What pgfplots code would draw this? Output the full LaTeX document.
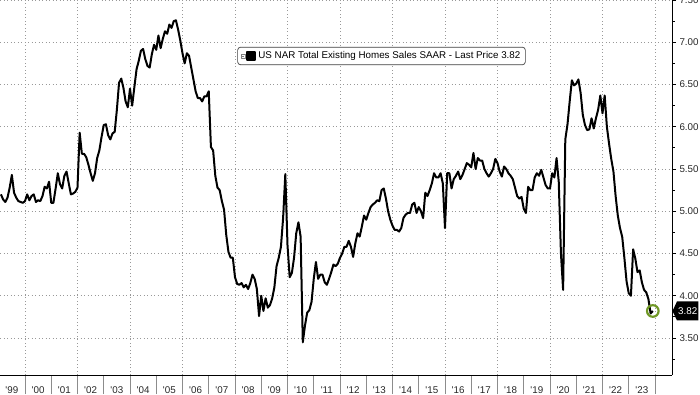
\documentclass[border=0pt]{standalone}
\usepackage{pgfplots}
\pgfplotsset{compat=1.18}
\usepackage{pgfplotstable}
\usepackage{fontspec}
\setmainfont{Liberation Sans}
\usetikzlibrary{shapes.symbols}
\definecolor{ringgreen}{RGB}{112,152,38}
\pgfplotstableread[row sep=\\]{
x v\\
1999.083 5.20\\ 1999.167 5.14\\ 1999.250 5.11\\ 1999.333 5.16\\ 1999.417 5.28\\ 1999.500 5.43\\ 1999.583 5.22\\ 1999.667 5.16\\ 1999.750 5.12\\ 1999.833 5.11\\ 1999.917 5.10\\ 2000.000 5.12\\
2000.083 5.20\\ 2000.167 5.13\\ 2000.250 5.18\\ 2000.333 5.20\\ 2000.417 5.11\\ 2000.500 5.13\\ 2000.583 5.12\\ 2000.667 5.18\\ 2000.750 5.29\\ 2000.833 5.27\\ 2000.917 5.35\\ 2001.000 5.10\\
2001.083 5.10\\ 2001.167 5.27\\ 2001.250 5.45\\ 2001.333 5.32\\ 2001.417 5.27\\ 2001.500 5.42\\ 2001.583 5.47\\ 2001.667 5.33\\ 2001.750 5.20\\ 2001.833 5.21\\ 2001.917 5.23\\ 2002.000 5.28\\
2002.083 5.93\\ 2002.167 5.68\\ 2002.250 5.68\\ 2002.333 5.64\\ 2002.417 5.55\\ 2002.500 5.45\\ 2002.583 5.36\\ 2002.667 5.45\\ 2002.750 5.63\\ 2002.833 5.72\\ 2002.917 5.88\\ 2003.000 6.02\\
2003.083 6.03\\ 2003.167 5.90\\ 2003.250 5.85\\ 2003.333 5.92\\ 2003.417 5.94\\ 2003.500 6.20\\ 2003.583 6.52\\ 2003.667 6.57\\ 2003.750 6.46\\ 2003.833 6.30\\ 2003.917 6.23\\ 2004.000 6.45\\
2004.083 6.25\\ 2004.167 6.47\\ 2004.250 6.68\\ 2004.333 6.78\\ 2004.417 6.90\\ 2004.500 6.92\\ 2004.583 6.80\\ 2004.667 6.72\\ 2004.750 6.70\\ 2004.833 6.86\\ 2004.917 6.97\\ 2005.000 6.91\\
2005.083 7.08\\ 2005.167 6.93\\ 2005.250 7.04\\ 2005.333 7.13\\ 2005.417 7.10\\ 2005.500 7.21\\ 2005.583 7.17\\ 2005.667 7.25\\ 2005.750 7.26\\ 2005.833 7.15\\ 2005.917 7.02\\ 2006.000 6.87\\
2006.083 6.75\\ 2006.167 6.87\\ 2006.250 6.84\\ 2006.333 6.70\\ 2006.417 6.56\\ 2006.500 6.42\\ 2006.583 6.34\\ 2006.667 6.34\\ 2006.750 6.30\\ 2006.833 6.36\\ 2006.917 6.36\\ 2007.000 6.42\\
2007.083 5.76\\ 2007.167 5.72\\ 2007.250 5.42\\ 2007.333 5.28\\ 2007.417 5.25\\ 2007.500 5.12\\ 2007.583 5.02\\ 2007.667 4.72\\ 2007.750 4.52\\ 2007.833 4.45\\ 2007.917 4.45\\ 2008.000 4.22\\
2008.083 4.14\\ 2008.167 4.13\\ 2008.250 4.15\\ 2008.333 4.10\\ 2008.417 4.13\\ 2008.500 4.08\\ 2008.583 4.15\\ 2008.667 4.25\\ 2008.750 4.20\\ 2008.833 4.08\\ 2008.917 3.76\\ 2009.000 4.00\\
2009.083 3.82\\ 2009.167 3.97\\ 2009.250 3.86\\ 2009.333 3.89\\ 2009.417 3.97\\ 2009.500 4.10\\ 2009.583 4.35\\ 2009.667 4.45\\ 2009.750 4.58\\ 2009.833 4.92\\ 2009.917 5.44\\ 2010.000 4.60\\
2010.083 4.22\\ 2010.167 4.27\\ 2010.250 4.45\\ 2010.333 4.74\\ 2010.417 4.87\\ 2010.500 4.70\\ 2010.583 3.45\\ 2010.667 3.65\\ 2010.750 3.80\\ 2010.833 3.83\\ 2010.917 3.93\\ 2011.000 4.20\\
2011.083 4.40\\ 2011.167 4.20\\ 2011.250 4.25\\ 2011.333 4.25\\ 2011.417 4.16\\ 2011.500 4.13\\ 2011.583 4.20\\ 2011.667 4.28\\ 2011.750 4.37\\ 2011.833 4.35\\ 2011.917 4.38\\ 2012.000 4.45\\
2012.083 4.50\\ 2012.167 4.58\\ 2012.250 4.58\\ 2012.333 4.65\\ 2012.417 4.58\\ 2012.500 4.46\\ 2012.583 4.62\\ 2012.667 4.74\\ 2012.750 4.70\\ 2012.833 4.82\\ 2012.917 4.95\\ 2013.000 4.90\\
2013.083 4.98\\ 2013.167 5.05\\ 2013.250 5.08\\ 2013.333 5.10\\ 2013.417 5.13\\ 2013.500 5.12\\ 2013.583 5.25\\ 2013.667 5.27\\ 2013.750 5.15\\ 2013.833 5.00\\ 2013.917 4.90\\ 2014.000 4.83\\
2014.083 4.78\\ 2014.167 4.78\\ 2014.250 4.76\\ 2014.333 4.80\\ 2014.417 4.92\\ 2014.500 4.96\\ 2014.583 4.98\\ 2014.667 4.98\\ 2014.750 5.08\\ 2014.833 5.10\\ 2014.917 4.98\\ 2015.000 5.05\\
2015.083 5.00\\ 2015.167 4.92\\ 2015.250 5.22\\ 2015.333 5.18\\ 2015.417 5.25\\ 2015.500 5.33\\ 2015.583 5.45\\ 2015.667 5.40\\ 2015.750 5.40\\ 2015.833 5.45\\ 2015.917 5.33\\ 2016.000 4.80\\
2016.083 5.45\\ 2016.167 5.45\\ 2016.250 5.27\\ 2016.333 5.38\\ 2016.417 5.42\\ 2016.500 5.47\\ 2016.583 5.38\\ 2016.667 5.43\\ 2016.750 5.50\\ 2016.833 5.57\\ 2016.917 5.55\\ 2017.000 5.52\\
2017.083 5.69\\ 2017.167 5.50\\ 2017.250 5.63\\ 2017.333 5.60\\ 2017.417 5.60\\ 2017.500 5.50\\ 2017.583 5.45\\ 2017.667 5.41\\ 2017.750 5.45\\ 2017.833 5.50\\ 2017.917 5.62\\ 2018.000 5.57\\
2018.083 5.47\\ 2018.167 5.41\\ 2018.250 5.53\\ 2018.333 5.50\\ 2018.417 5.45\\ 2018.500 5.42\\ 2018.583 5.38\\ 2018.667 5.28\\ 2018.750 5.18\\ 2018.833 5.15\\ 2018.917 5.17\\ 2019.000 5.03\\
2019.083 4.98\\ 2019.167 5.29\\ 2019.250 5.25\\ 2019.333 5.25\\ 2019.417 5.40\\ 2019.500 5.45\\ 2019.583 5.42\\ 2019.667 5.49\\ 2019.750 5.40\\ 2019.833 5.31\\ 2019.917 5.27\\ 2020.000 5.27\\
2020.083 5.45\\ 2020.167 5.40\\ 2020.250 5.63\\ 2020.333 5.35\\ 2020.417 4.50\\ 2020.500 4.07\\ 2020.583 5.85\\ 2020.667 6.03\\ 2020.750 6.30\\ 2020.833 6.55\\ 2020.917 6.49\\ 2021.000 6.51\\
2021.083 6.56\\ 2021.167 6.40\\ 2021.250 6.14\\ 2021.333 6.02\\ 2021.417 5.96\\ 2021.500 5.97\\ 2021.583 6.10\\ 2021.667 5.98\\ 2021.750 6.10\\ 2021.833 6.20\\ 2021.917 6.37\\ 2022.000 6.16\\
2022.083 6.37\\ 2022.167 6.00\\ 2022.250 5.80\\ 2022.333 5.62\\ 2022.417 5.47\\ 2022.500 5.18\\ 2022.583 4.95\\ 2022.667 4.80\\ 2022.750 4.70\\ 2022.833 4.45\\ 2022.917 4.17\\ 2023.000 4.03\\
2023.083 4.00\\ 2023.167 4.55\\ 2023.250 4.44\\ 2023.333 4.28\\ 2023.417 4.30\\ 2023.500 4.16\\ 2023.583 4.07\\ 2023.667 4.04\\ 2023.750 3.96\\ 2023.833 3.79\\ 2023.917 3.82\\
}\salesdata

\begin{document}
\begin{tikzpicture}
\path[use as bounding box] (0,0) rectangle (700pt,394pt);
% year separators below the axis
\begin{axis}[
  at={(0pt,19pt)}, anchor=south west, scale only axis,
  width=672pt, height=375pt,
  xmin=1999.048, xmax=2024.648, ymin=0, ymax=1,
  axis x line*=bottom, hide y axis,
  axis line style={draw=none},
  xtick={2000,2001,...,2024}, xticklabels={},
  tick align=outside, major tick length=19pt,
  xtick style={black!45, line width=0.7pt},
]
\end{axis}
\begin{axis}[
  at={(0pt,19pt)}, anchor=south west, scale only axis,
  width=672pt, height=375pt,
  xmin=1999.048, xmax=2024.648, ymin=3.0625, ymax=7.5,
  clip=false,
  axis x line*=bottom, axis y line*=right,
  axis line style={black, line width=0.9pt},
  xtick={2000,2002,...,2024}, xticklabels={},
  xmajorgrids, xtick style={draw=none},
  extra x ticks={1999.5,2000.5,...,2023.5},
  extra x tick labels={\textquotesingle 99,\textquotesingle 00,\textquotesingle 01,\textquotesingle 02,\textquotesingle 03,\textquotesingle 04,\textquotesingle 05,\textquotesingle 06,\textquotesingle 07,\textquotesingle 08,\textquotesingle 09,\textquotesingle 10,\textquotesingle 11,\textquotesingle 12,\textquotesingle 13,\textquotesingle 14,\textquotesingle 15,\textquotesingle 16,\textquotesingle 17,\textquotesingle 18,\textquotesingle 19,\textquotesingle 20,\textquotesingle 21,\textquotesingle 22,\textquotesingle 23},
  extra x tick style={grid=none},
  ytick={3.5,4,...,7.5}, minor ytick={3.25,3.75,...,7.25},
  ymajorgrids,
  ytick style={black, line width=0.9pt},
  tick align=outside, major tick length=4pt, minor tick length=2.5pt,
  /pgf/number format/assume math mode=true,
  yticklabel style={/pgf/number format/fixed, /pgf/number format/fixed zerofill, /pgf/number format/precision=2, xshift=0pt},
  tick label style={font=\fontsize{9.8}{11}\selectfont, text=black!85},
  xticklabel style={yshift=-4pt},
  grid style={black!40, dash pattern=on 0.9pt off 2.6pt, line width=0.8pt},
  legend style={at={(0.5677,0.8507)}, anchor=center, draw=black!75, line width=0.7pt,
    rounded corners=3pt, inner xsep=3pt, inner ysep=2.5pt,
    font=\fontsize{9.8}{11}\selectfont},
  legend image code/.code={
    \draw[sharp corners, black!50, line width=0.5pt, fill=white] (0pt,-2.2pt) rectangle (4.4pt,2.2pt);
    \draw[sharp corners, black!50, line width=0.5pt] (1pt,0pt) -- (3.4pt,0pt);
    \fill[sharp corners, black] (6.5pt,-4pt) rectangle (14.5pt,4pt);
  },
]
\addplot[black, line width=2pt, line join=round] table[x=x,y=v]{\salesdata};
\addlegendentry{US NAR Total Existing Homes Sales SAAR - Last Price 3.82}
\addplot[forget plot, only marks, mark=o, mark size=5.8pt, mark options={draw=ringgreen, line width=2.2pt}] coordinates {(2023.917,3.82)};
\node[signal, signal to=west, signal pointer angle=130, fill=black, text=white,
  inner xsep=1.2pt, inner ysep=0pt, minimum height=19pt, anchor=west,
  font=\fontsize{9.8}{11}\selectfont, xshift=0.3pt] at (axis cs:2024.648,3.82) {3.82};
\end{axis}
\end{tikzpicture}
\end{document}
